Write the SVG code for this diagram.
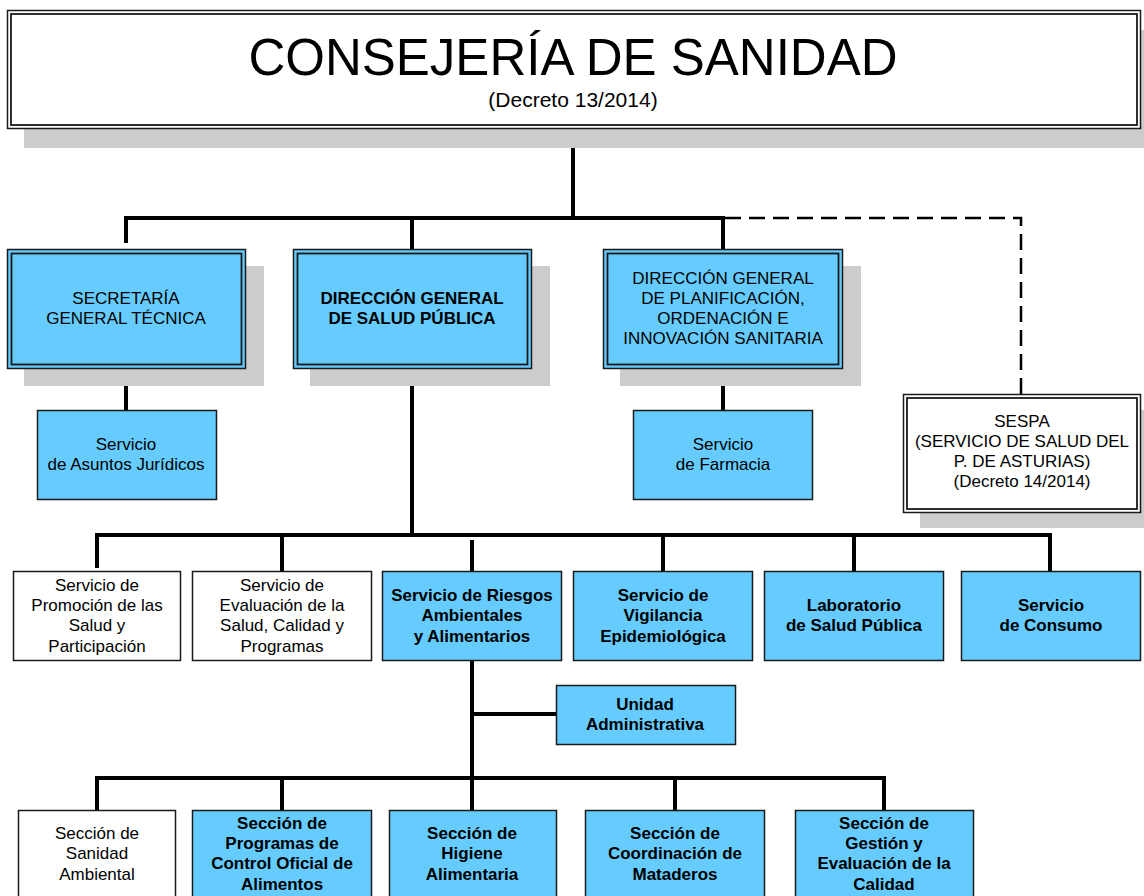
<svg xmlns="http://www.w3.org/2000/svg" width="1144" height="896" viewBox="0 0 1144 896">
<style>
.bg{fill:#fff}
.sh{fill:#CCCCCC}
.blue{fill:#66CCFF;stroke:#1a1a1a;stroke-width:1.5}
.white{fill:#fff;stroke:#1a1a1a;stroke-width:1.5}
.in{fill:none;stroke:#1a1a1a;stroke-width:1.8}
.t{font-family:"Liberation Sans",Arial,sans-serif;font-size:17px;text-anchor:middle;fill:#000}
.b{font-weight:bold}
.conn{stroke:#000;stroke-width:4;fill:none;stroke-linecap:butt}
.dash{stroke:#000;stroke-width:2.5;fill:none;stroke-dasharray:16 8}
</style>
<rect class="bg" x="0" y="0" width="1144" height="896"/>

<g id="connectors">
<path class="conn" d="M573 128V218M124 218H725M126 216V243M412 216V249M723 216V249"/>
<path class="dash" d="M725 218H1021V394"/>
<path class="conn" d="M126 368V410M723 368V410M412 368V537M95 535H1052M97 533V568M282 533V571M472 540V571M663 533V571M854 533V571M1050 533V571"/>
<path class="conn" d="M472 661V780M472 714H556M95 778H886M97 776V810M282 776V810M472 778V810M675 776V810M884 776V810"/>
</g>

<g id="consejeria">
<rect class="sh" x="24" y="30" width="1120" height="118"/>
<rect class="white" x="7.5" y="10.5" width="1133" height="118"/>
<rect class="in" x="11" y="14" width="1126" height="111"/>
<text class="t" x="573" y="75" style="font-size:51px">CONSEJERÍA DE SANIDAD</text>
<text class="t" x="573" y="107" style="font-size:21px">(Decreto 13/2014)</text>
</g>

<g id="secretaria">
<rect class="sh" x="24" y="266" width="240" height="120"/>
<rect class="blue" x="7.5" y="249.5" width="238" height="119"/>
<rect class="in" x="11.5" y="253.5" width="230" height="111"/>
<text class="t" x="126" y="304">SECRETARÍA</text>
<text class="t" x="126" y="324">GENERAL TÉCNICA</text>
</g>

<g id="dgsp">
<rect class="sh" x="310" y="266" width="240" height="120"/>
<rect class="blue" x="293.5" y="249.5" width="238" height="119"/>
<rect class="in" x="297.5" y="253.5" width="230" height="111"/>
<text class="t b" x="412" y="304">DIRECCIÓN GENERAL</text>
<text class="t b" x="412" y="324">DE SALUD PÚBLICA</text>
</g>

<g id="dgplan">
<rect class="sh" x="620" y="266" width="241" height="120"/>
<rect class="blue" x="603.5" y="249.5" width="239" height="119"/>
<rect class="in" x="607.5" y="253.5" width="231" height="111"/>
<text class="t" x="723" y="284">DIRECCIÓN GENERAL</text>
<text class="t" x="723" y="304">DE PLANIFICACIÓN,</text>
<text class="t" x="723" y="324">ORDENACIÓN E</text>
<text class="t" x="723" y="344">INNOVACIÓN SANITARIA</text>
</g>

<g id="sespa">
<rect class="sh" x="920" y="410" width="224" height="118"/>
<rect class="white" x="903.5" y="394.5" width="237" height="118"/>
<rect class="in" x="907" y="398" width="230" height="111"/>
<text class="t" x="1022" y="427">SESPA</text>
<text class="t" x="1022" y="447">(SERVICIO DE SALUD DEL</text>
<text class="t" x="1022" y="467">P. DE ASTURIAS)</text>
<text class="t" x="1022" y="487">(Decreto 14/2014)</text>
</g>

<g id="juridicos">
<rect class="blue" x="37.5" y="410.5" width="179" height="89"/>
<text class="t" x="126" y="450">Servicio</text>
<text class="t" x="126" y="470">de Asuntos Jurídicos</text>
</g>

<g id="farmacia">
<rect class="blue" x="633.5" y="410.5" width="179" height="89"/>
<text class="t" x="723" y="450">Servicio</text>
<text class="t" x="723" y="470">de Farmacia</text>
</g>

<g id="promocion">
<rect class="white" x="13.5" y="571.5" width="167" height="89"/>
<text class="t" x="97" y="591">Servicio de</text>
<text class="t" x="97" y="611">Promoción de las</text>
<text class="t" x="97" y="631">Salud y</text>
<text class="t" x="97" y="652">Participación</text>
</g>

<g id="evaluacion">
<rect class="white" x="192.5" y="571.5" width="179" height="89"/>
<text class="t" x="282" y="591">Servicio de</text>
<text class="t" x="282" y="611">Evaluación de la</text>
<text class="t" x="282" y="631">Salud, Calidad y</text>
<text class="t" x="282" y="652">Programas</text>
</g>

<g id="riesgos">
<rect class="blue" x="382.5" y="571.5" width="179" height="89"/>
<text class="t b" x="472" y="601">Servicio de Riesgos</text>
<text class="t b" x="472" y="621">Ambientales</text>
<text class="t b" x="472" y="642">y Alimentarios</text>
</g>

<g id="vigilancia">
<rect class="blue" x="573.5" y="571.5" width="179" height="89"/>
<text class="t b" x="663" y="601">Servicio de</text>
<text class="t b" x="663" y="621">Vigilancia</text>
<text class="t b" x="663" y="642">Epidemiológica</text>
</g>

<g id="laboratorio">
<rect class="blue" x="764.5" y="571.5" width="179" height="89"/>
<text class="t b" x="854" y="611">Laboratorio</text>
<text class="t b" x="854" y="631">de Salud Pública</text>
</g>

<g id="consumo">
<rect class="blue" x="961.5" y="571.5" width="179" height="89"/>
<text class="t b" x="1051" y="611">Servicio</text>
<text class="t b" x="1051" y="631">de Consumo</text>
</g>

<g id="unidad">
<rect class="blue" x="556.5" y="685.5" width="179" height="59"/>
<text class="t b" x="645" y="710">Unidad</text>
<text class="t b" x="645" y="730">Administrativa</text>
</g>

<g id="sanidad-ambiental">
<rect class="white" x="18.5" y="810.5" width="157" height="90"/>
<text class="t" x="97" y="839">Sección de</text>
<text class="t" x="97" y="859">Sanidad</text>
<text class="t" x="97" y="880">Ambiental</text>
</g>

<g id="programas">
<rect class="blue" x="192.5" y="810.5" width="179" height="90"/>
<text class="t b" x="282" y="829">Sección de</text>
<text class="t b" x="282" y="849">Programas de</text>
<text class="t b" x="282" y="869">Control Oficial de</text>
<text class="t b" x="282" y="890">Alimentos</text>
</g>

<g id="higiene">
<rect class="blue" x="389.5" y="810.5" width="167" height="90"/>
<text class="t b" x="472" y="839">Sección de</text>
<text class="t b" x="472" y="859">Higiene</text>
<text class="t b" x="472" y="880">Alimentaria</text>
</g>

<g id="mataderos">
<rect class="blue" x="585.5" y="810.5" width="179" height="90"/>
<text class="t b" x="675" y="839">Sección de</text>
<text class="t b" x="675" y="859">Coordinación de</text>
<text class="t b" x="675" y="880">Mataderos</text>
</g>

<g id="gestion">
<rect class="blue" x="795.5" y="810.5" width="178" height="90"/>
<text class="t b" x="884" y="829">Sección de</text>
<text class="t b" x="884" y="849">Gestión y</text>
<text class="t b" x="884" y="869">Evaluación de la</text>
<text class="t b" x="884" y="890">Calidad</text>
</g>
</svg>
